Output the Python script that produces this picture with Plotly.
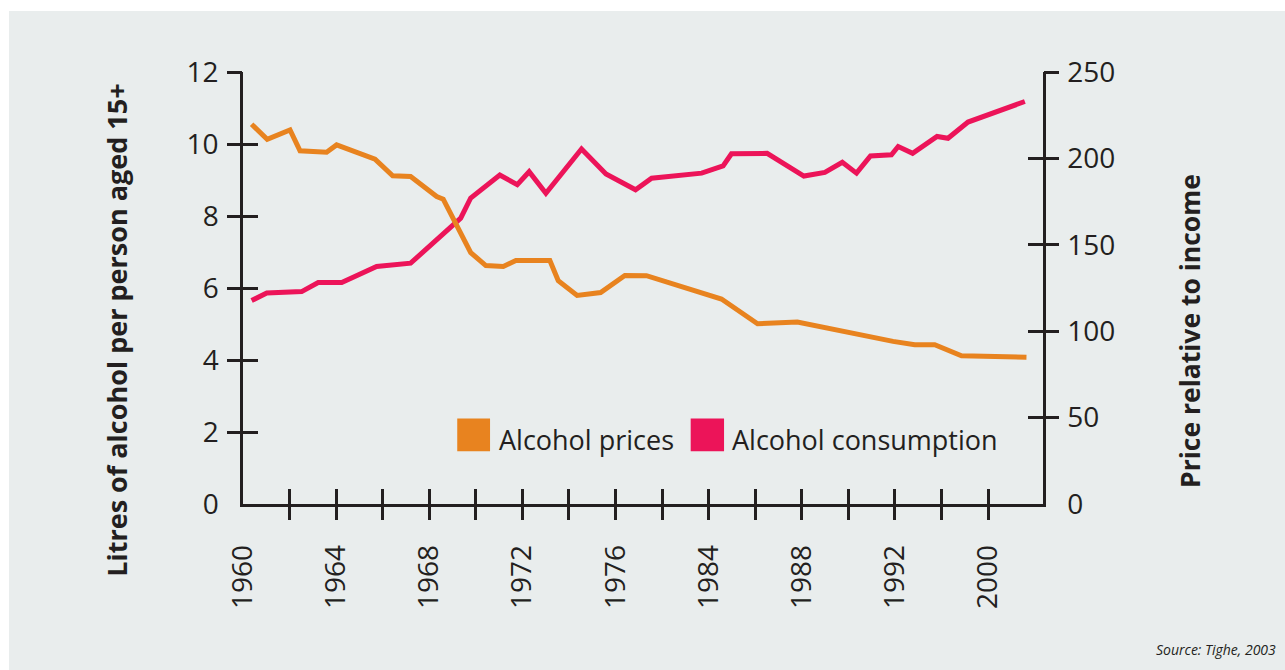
import plotly.graph_objects as go

# ---- data (x positions are on the chart's own, nominal year scale) ----
tick_years = [1960, 1962, 1964, 1966, 1968, 1970, 1972, 1974, 1976, 1978,
              1980, 1982, 1984, 1986, 1988, 1990, 1992]
tick_labels = ["1960", "", "1964", "", "1968", "", "1972", "", "1976", "",
               "1984", "", "1988", "", "1992", "", "2000"]

consumption_years = [1960.37, 1961.02, 1962.52, 1963.23, 1964.24, 1965.74, 1967.20,
                     1969.35, 1969.78, 1971.03, 1971.78, 1972.29, 1973.01, 1974.54,
                     1975.59, 1976.86, 1977.55, 1979.70, 1980.62, 1980.98, 1982.51,
                     1984.09, 1984.99, 1985.74, 1986.35, 1986.95, 1987.85, 1988.14,
                     1988.76, 1989.81, 1990.28, 1991.14, 1993.58]
consumption = [5.65, 5.86, 5.90, 6.15, 6.15, 6.60, 6.69,
               7.94, 8.50, 9.14, 8.87, 9.23, 8.63, 9.86,
               9.17, 8.73, 9.05, 9.19, 9.39, 9.73, 9.74,
               9.11, 9.21, 9.49, 9.19, 9.67, 9.70, 9.93,
               9.74, 10.21, 10.16, 10.61, 11.18]

price_years = [1960.37, 1961.04, 1962.02, 1962.45, 1963.59, 1964.02, 1965.67, 1966.43,
               1967.20, 1968.32, 1968.60, 1969.78, 1970.43, 1971.18, 1971.72, 1973.18,
               1973.54, 1974.35, 1975.36, 1976.40, 1977.33, 1980.55, 1982.10, 1983.81,
               1987.92, 1988.85, 1989.71, 1990.86, 1993.65]
prices = [219.8, 211.1, 216.5, 204.4, 203.6, 207.8, 199.5, 189.9,
          189.5, 177.9, 176.4, 145.5, 138.0, 137.4, 140.9, 140.9,
          129.2, 120.7, 122.4, 132.2, 132.1, 118.6, 104.3, 105.3,
          94.1, 92.2, 92.2, 85.8, 84.9]

left_ticks = [0, 2, 4, 6, 8, 10, 12]
right_ticks = [0, 50, 100, 150, 200, 250]

X_RANGE = [1960, 1994.36]
LEFT_RANGE = [0, 12]
RIGHT_RANGE = [0, 250]

ORANGE = "#e8831f"
PINK = "#ec1459"
INK = "#231f20"
BG = "#e9eded"
FONT = "Open Sans"

fig = go.Figure()
fig.add_trace(go.Scatter(x=price_years, y=prices, mode="lines", yaxis="y2",
                         line=dict(color=ORANGE, width=5), name="Alcohol prices",
                         showlegend=False, hoverinfo="skip"))
fig.add_trace(go.Scatter(x=consumption_years, y=consumption, mode="lines",
                         line=dict(color=PINK, width=5), name="Alcohol consumption",
                         showlegend=False, hoverinfo="skip"))
# dummy traces so the tick-only overlay axes are drawn
fig.add_trace(go.Scatter(x=[None], y=[None], xaxis="x2", yaxis="y", showlegend=False))
fig.add_trace(go.Scatter(x=[None], y=[None], xaxis="x", yaxis="y3", showlegend=False))
fig.add_trace(go.Scatter(x=[None], y=[None], xaxis="x", yaxis="y4", showlegend=False))

tick_common = dict(tickcolor=INK, tickwidth=2.5, ticklen=15, showgrid=False, zeroline=False)
label_font = dict(family=FONT, size=28, color=INK)

fig.update_layout(
    width=1285, height=670,
    margin=dict(l=243, r=242, t=72, b=166, pad=0),
    paper_bgcolor="white",
    plot_bgcolor="rgba(0,0,0,0)",
    font=dict(family=FONT, color=INK),
    xaxis=dict(range=X_RANGE, showline=True, linecolor=INK, linewidth=2.5,
               ticks="inside", tickvals=tick_years, ticktext=tick_labels,
               tickangle=-90, tickfont=label_font, ticklabelstandoff=27,
               **tick_common),
    xaxis2=dict(range=X_RANGE, overlaying="x", anchor="y", side="bottom",
                ticks="outside", tickvals=tick_years[1:], showticklabels=False,
                showline=False, **tick_common),
    yaxis=dict(range=LEFT_RANGE, showline=True, linecolor=INK, linewidth=2.5,
               ticks="inside", tickvals=left_ticks, tickfont=label_font,
               ticklabelstandoff=16, **tick_common),
    yaxis2=dict(range=RIGHT_RANGE, overlaying="y", side="right", anchor="x",
                showline=True, linecolor=INK, linewidth=2.5,
                ticks="inside", tickvals=right_ticks, tickfont=label_font,
                ticklabelstandoff=16, **tick_common),
    yaxis3=dict(range=LEFT_RANGE, overlaying="y", side="left", anchor="x",
                ticks="outside", tickvals=left_ticks[1:], showticklabels=False,
                showline=False, **tick_common),
    yaxis4=dict(range=RIGHT_RANGE, overlaying="y", side="right", anchor="x",
                ticks="outside", tickvals=right_ticks[1:], showticklabels=False,
                showline=False, **tick_common),
    shapes=[
        dict(type="rect", xref="paper", yref="paper", layer="below",
             x0=-0.2925, x1=1.31, y0=-0.40, y1=1.141,
             fillcolor=BG, line=dict(width=0)),
        dict(type="rect", xref="paper", yref="paper",
             x0=0.2678, x1=0.3088, y0=0.122, y1=0.1977,
             fillcolor=ORANGE, line=dict(width=0)),
        dict(type="rect", xref="paper", yref="paper",
             x0=0.5596, x1=0.6013, y0=0.122, y1=0.1977,
             fillcolor=PINK, line=dict(width=0)),
    ],
    annotations=[
        dict(text="Alcohol prices", xref="paper", yref="paper", x=0.3175, y=0.149,
             xanchor="left", yanchor="middle", showarrow=False,
             font=dict(family=FONT, size=27, color=INK)),
        dict(text="Alcohol consumption", xref="paper", yref="paper", x=0.6088, y=0.149,
             xanchor="left", yanchor="middle", showarrow=False,
             font=dict(family=FONT, size=27, color=INK)),
        dict(text="<b>Litres of alcohol per person aged 15+</b>", xref="paper", yref="paper",
             x=-0.1575, y=0.401, xanchor="center", yanchor="middle", textangle=-90,
             showarrow=False, font=dict(family=FONT, size=27, color=INK)),
        dict(text="<b>Price relative to income</b>", xref="paper", yref="paper",
             x=1.184, y=0.401, xanchor="center", yanchor="middle", textangle=-90,
             showarrow=False, font=dict(family=FONT, size=26.5, color=INK)),
        dict(text="<i>Source: Tighe, 2003</i>", xref="paper", yref="paper",
             x=1.29375, y=-0.3364, xanchor="right", yanchor="middle",
             showarrow=False, font=dict(family=FONT, size=14, color=INK)),
    ],
)

fig.write_html("out.html", config={"displayModeBar": False},
               post_script="document.body.style.margin='0';")
